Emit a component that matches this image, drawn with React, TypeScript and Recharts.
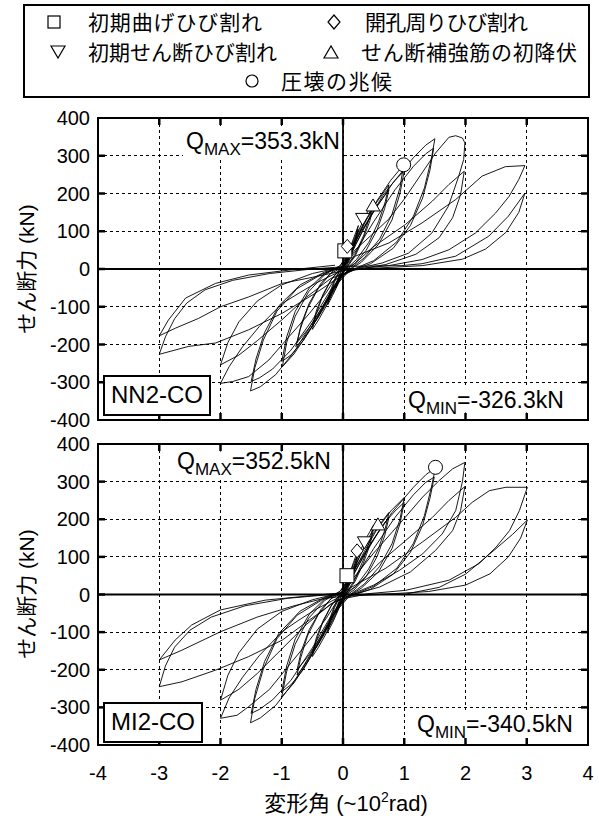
import { CartesianGrid, ComposedChart, Line, ReferenceArea, ReferenceLine, Scatter, XAxis, YAxis } from "recharts"

type Pt = [number, number]

const X_TICKS = [-4, -3, -2, -1, 0, 1, 2, 3, 4]
const Y_TICKS = [-400, -300, -200, -100, 0, 100, 200, 300, 400]

// NN2-CO : deformation angle (x10^-2 rad) vs shear force (kN)
const NN2_R0125: Pt[] = [[0,0],[0.06,30],[0.12,60],[0.09,40],[0.04,12],[0,-5],[-0.06,-28],[-0.12,-50],[-0.09,-32],[-0.04,-10],[0,2],[0.06,28],[0.12,55],[0.09,36],[0.04,10],[0,-5],[-0.06,-25],[-0.12,-45],[-0.09,-28],[-0.04,-8],[0,3]]
const NN2_R025: Pt[] = [[0,3],[0.08,40],[0.17,80],[0.25,115],[0.21,85],[0.14,45],[0.06,12],[0,-8],[-0.08,-40],[-0.17,-70],[-0.25,-95],[-0.21,-68],[-0.14,-35],[-0.06,-8],[0,5],[0.08,38],[0.17,75],[0.25,105],[0.21,75],[0.14,38],[0.06,8],[0,-8],[-0.08,-38],[-0.17,-65],[-0.25,-88],[-0.21,-60],[-0.14,-30],[-0.06,-5],[0,5]]
const NN2_R05: Pt[] = [[0,5],[0.12,50],[0.25,100],[0.38,145],[0.5,180],[0.44,140],[0.34,90],[0.2,40],[0.06,5],[-0.05,-20],[-0.15,-55],[-0.28,-100],[-0.4,-135],[-0.5,-160],[-0.44,-120],[-0.34,-75],[-0.2,-30],[-0.06,-3],[0.04,15],[0.15,50],[0.28,100],[0.4,140],[0.5,170],[0.44,128],[0.33,80],[0.2,35],[0.06,3],[-0.05,-20],[-0.17,-58],[-0.3,-100],[-0.42,-132],[-0.5,-150],[-0.43,-108],[-0.32,-65],[-0.18,-25],[-0.05,0]]
const NN2_R075: Pt[] = [[-0.05,0],[0.1,45],[0.3,110],[0.5,165],[0.65,200],[0.75,223],[0.69,178],[0.58,125],[0.42,70],[0.22,25],[0.02,-5],[-0.1,-35],[-0.3,-95],[-0.5,-150],[-0.65,-185],[-0.77,-206],[-0.7,-160],[-0.58,-105],[-0.4,-50],[-0.2,-12],[0,5],[0.15,45],[0.35,110],[0.55,165],[0.75,210],[0.68,160],[0.56,105],[0.38,50],[0.18,12],[0,-8],[-0.15,-45],[-0.35,-105],[-0.55,-155],[-0.75,-195],[-0.68,-145],[-0.55,-90],[-0.36,-38],[-0.16,-5],[0,8]]
const NN2_R1: Pt[] = [[0,8],[0.15,55],[0.35,120],[0.55,180],[0.78,235],[0.99,276],[0.93,215],[0.8,145],[0.6,80],[0.35,30],[0.1,-2],[-0.08,-30],[-0.3,-95],[-0.55,-165],[-0.8,-225],[-0.99,-259],[-0.92,-195],[-0.78,-125],[-0.56,-60],[-0.3,-15],[-0.05,8],[0.15,50],[0.4,125],[0.65,195],[0.85,235],[1.0,260],[0.93,200],[0.8,130],[0.58,65],[0.3,18],[0.05,-8],[-0.15,-50],[-0.4,-125],[-0.65,-190],[-0.85,-228],[-1.0,-245],[-0.92,-180],[-0.78,-112],[-0.55,-50],[-0.3,-12],[-0.05,8]]
const NN2_R15: Pt[] = [[-0.05,8],[0.15,60],[0.45,140],[0.8,225],[1.15,295],[1.35,328],[1.5,345],[1.44,290],[1.33,215],[1.15,140],[0.88,72],[0.5,22],[0.1,-5],[-0.15,-50],[-0.45,-130],[-0.8,-220],[-1.1,-280],[-1.35,-312],[-1.51,-323],[-1.44,-262],[-1.3,-188],[-1.08,-112],[-0.75,-52],[-0.35,-14],[0,6],[0.2,45],[0.5,125],[0.85,210],[1.15,272],[1.35,305],[1.48,320],[1.42,262],[1.3,188],[1.1,115],[0.82,55],[0.45,14],[0.05,-8],[-0.2,-55],[-0.5,-135],[-0.85,-215],[-1.15,-265],[-1.36,-288],[-1.5,-298],[-1.42,-238],[-1.28,-168],[-1.05,-98],[-0.7,-42],[-0.3,-8],[0,6]]
const NN2_R2: Pt[] = [[0,6],[0.2,51],[0.5,95],[0.74,131],[1.0,185],[1.18,228],[1.51,307],[1.73,349],[1.84,353],[1.95,347],[1.99,334],[1.97,290],[1.89,246],[1.72,166],[1.45,95],[1.07,42],[0.64,16],[0.2,0],[-0.1,-18],[-0.28,-64],[-0.55,-118],[-0.88,-179],[-1.21,-241],[-1.54,-285],[-1.8,-298],[-2.0,-303],[-1.86,-259],[-1.64,-206],[-1.37,-153],[-0.99,-91],[-0.72,-64],[-0.45,-38],[-0.12,-12],[0.2,15],[0.48,57],[1.02,118],[1.46,180],[1.73,224],[1.98,259],[1.92,197],[1.79,136],[1.57,83],[1.19,39],[0.7,12],[0.2,-2],[-0.2,-25],[-0.6,-75],[-1.0,-135],[-1.4,-190],[-1.7,-228],[-2.0,-254],[-1.88,-195],[-1.7,-140],[-1.4,-85],[-1.0,-42],[-0.5,-12],[0,6]]
const NN2_R3: Pt[] = [[0,6],[0.2,34],[0.75,69],[1.29,122],[1.84,184],[2.27,246],[2.65,271],[2.97,274],[2.87,237],[2.71,192],[2.49,148],[2.16,95],[1.73,51],[1.29,25],[0.75,9],[0.2,0],[-0.13,-29],[-0.45,-64],[-0.99,-117],[-1.54,-161],[-2.08,-196],[-2.52,-205],[-3.0,-226],[-2.9,-180],[-2.75,-132],[-2.55,-90],[-2.25,-55],[-1.8,-30],[-1.2,-12],[-0.5,0],[0.09,7],[0.96,9],[1.29,14],[1.84,34],[2.38,87],[2.7,140],[2.97,201],[2.87,150],[2.66,97],[2.33,53],[1.95,26],[1.3,9],[0.5,2],[0,-5],[-0.5,-22],[-0.99,-38],[-1.54,-74],[-2.0,-100],[-2.36,-131],[-2.74,-157],[-3.0,-177],[-2.85,-135],[-2.57,-77],[-2.08,-38],[-1.54,-16],[-0.89,-3],[-0.13,10]]

// MI2-CO
const MI2_R0125: Pt[] = [[0,0],[0.06,28],[0.12,55],[0.09,36],[0.04,10],[0,-5],[-0.06,-28],[-0.12,-50],[-0.09,-32],[-0.04,-10],[0,2],[0.06,26],[0.12,50],[0.09,32],[0.04,8],[0,-5],[-0.06,-25],[-0.12,-45],[-0.09,-28],[-0.04,-8],[0,3]]
const MI2_R025: Pt[] = [[0,3],[0.08,42],[0.17,85],[0.25,120],[0.21,88],[0.14,48],[0.06,12],[0,-8],[-0.08,-42],[-0.17,-75],[-0.25,-100],[-0.21,-70],[-0.14,-36],[-0.06,-8],[0,5],[0.08,40],[0.17,80],[0.25,110],[0.21,78],[0.14,40],[0.06,8],[0,-8],[-0.08,-40],[-0.17,-70],[-0.25,-92],[-0.21,-62],[-0.14,-30],[-0.06,-5],[0,5]]
const MI2_R05: Pt[] = [[0,5],[0.12,52],[0.25,105],[0.38,150],[0.5,185],[0.44,145],[0.34,95],[0.2,42],[0.06,5],[-0.05,-22],[-0.15,-58],[-0.28,-105],[-0.4,-140],[-0.5,-165],[-0.44,-125],[-0.34,-78],[-0.2,-32],[-0.06,-3],[0.04,15],[0.15,52],[0.28,105],[0.4,145],[0.5,175],[0.44,132],[0.33,82],[0.2,36],[0.06,3],[-0.05,-20],[-0.17,-60],[-0.3,-104],[-0.42,-137],[-0.5,-155],[-0.43,-112],[-0.32,-68],[-0.18,-26],[-0.05,0]]
const MI2_R075: Pt[] = [[-0.05,0],[0.1,45],[0.3,110],[0.5,163],[0.65,197],[0.75,218],[0.69,175],[0.58,122],[0.42,68],[0.22,24],[0.02,-5],[-0.1,-36],[-0.3,-100],[-0.5,-155],[-0.65,-193],[-0.75,-214],[-0.69,-168],[-0.58,-110],[-0.4,-52],[-0.2,-12],[0,5],[0.15,45],[0.35,108],[0.55,160],[0.75,205],[0.68,156],[0.56,102],[0.38,48],[0.18,12],[0,-8],[-0.15,-46],[-0.35,-108],[-0.55,-160],[-0.75,-200],[-0.68,-150],[-0.55,-93],[-0.36,-40],[-0.16,-5],[0,8]]
const MI2_R1: Pt[] = [[0,8],[0.15,52],[0.35,115],[0.55,172],[0.78,222],[1.0,258],[0.93,200],[0.8,135],[0.6,75],[0.35,28],[0.1,-2],[-0.08,-32],[-0.3,-100],[-0.55,-172],[-0.8,-235],[-1.0,-272],[-0.92,-205],[-0.78,-132],[-0.56,-63],[-0.3,-16],[-0.05,8],[0.15,48],[0.4,118],[0.65,185],[0.85,222],[1.0,245],[0.93,188],[0.8,122],[0.58,60],[0.3,17],[0.05,-8],[-0.15,-52],[-0.4,-130],[-0.65,-200],[-0.85,-240],[-1.0,-258],[-0.92,-190],[-0.78,-118],[-0.55,-52],[-0.3,-12],[-0.05,8]]
const MI2_R15: Pt[] = [[-0.05,8],[0.15,58],[0.45,135],[0.8,218],[1.15,285],[1.35,318],[1.51,337],[1.44,283],[1.33,210],[1.15,136],[0.88,70],[0.5,22],[0.1,-5],[-0.15,-52],[-0.45,-137],[-0.8,-232],[-1.1,-295],[-1.35,-328],[-1.51,-341],[-1.44,-276],[-1.3,-198],[-1.08,-118],[-0.75,-55],[-0.35,-15],[0,6],[0.2,44],[0.5,122],[0.85,205],[1.15,265],[1.35,298],[1.49,312],[1.42,256],[1.3,184],[1.1,112],[0.82,54],[0.45,14],[0.05,-8],[-0.2,-58],[-0.5,-142],[-0.85,-228],[-1.15,-280],[-1.36,-305],[-1.5,-316],[-1.42,-252],[-1.28,-178],[-1.05,-104],[-0.7,-44],[-0.3,-8],[0,6]]
const MI2_R2: Pt[] = [[0,6],[0.1,30],[0.5,110],[1.02,206],[1.3,259],[1.57,303],[1.79,334],[1.99,351],[1.95,300],[1.84,223],[1.62,161],[1.3,108],[0.92,64],[0.5,25],[0.1,-2],[-0.1,-18],[-0.28,-65],[-0.55,-122],[-0.9,-192],[-1.2,-252],[-1.54,-298],[-1.73,-321],[-2.0,-329],[-1.86,-275],[-1.64,-220],[-1.37,-163],[-0.99,-98],[-0.72,-68],[-0.45,-40],[-0.12,-12],[0.2,20],[0.6,85],[1.02,143],[1.46,205],[1.73,250],[1.99,287],[1.92,223],[1.79,170],[1.51,117],[1.1,60],[0.6,20],[0.1,-3],[-0.2,-25],[-0.6,-80],[-1.0,-145],[-1.4,-210],[-1.7,-252],[-2.0,-281],[-1.88,-215],[-1.7,-155],[-1.4,-92],[-1.0,-45],[-0.5,-14],[0,6]]
const MI2_R3: Pt[] = [[0,6],[0.2,25],[0.7,70],[1.3,140],[1.84,205],[2.11,245],[2.39,276],[2.66,285],[3.01,285],[2.88,223],[2.72,170],[2.5,126],[2.22,82],[1.73,38],[1.02,11],[0.4,2],[-0.1,-15],[-0.55,-68],[-0.99,-121],[-1.54,-165],[-2.08,-201],[-2.63,-232],[-3.0,-245],[-2.9,-190],[-2.75,-140],[-2.5,-95],[-2.15,-60],[-1.6,-30],[-0.9,-10],[-0.2,0],[0.2,0],[1.02,1],[1.57,19],[2.0,54],[2.39,107],[2.77,160],[3.01,198],[2.9,150],[2.7,100],[2.4,55],[2.0,25],[1.4,8],[0.6,0],[0,-5],[-0.3,-10],[-0.8,-30],[-1.4,-60],[-2.0,-99],[-2.63,-148],[-3.0,-174],[-2.74,-121],[-2.47,-81],[-2.0,-41],[-1.27,-15],[-0.12,3]]

// event markers [x, Q]
const NN2_FLEX_CRACK: Pt[] = [[0.03, 48]]
const NN2_HOLE_CRACK: Pt[] = [[0.07, 60]]
const NN2_SHEAR_CRACK: Pt[] = [[0.32, 134]]
const NN2_STIRRUP_YIELD: Pt[] = [[0.49, 167]]
const NN2_CRUSH: Pt[] = [[0.99, 276]]
const MI2_FLEX_CRACK: Pt[] = [[0.065, 50]]
const MI2_HOLE_CRACK: Pt[] = [[0.23, 116]]
const MI2_SHEAR_CRACK: Pt[] = [[0.35, 140]]
const MI2_STIRRUP_YIELD: Pt[] = [[0.57, 185]]
const MI2_CRUSH: Pt[] = [[1.51, 338]]

const toXY = (a: Pt[]) => a.map(([x, y]) => ({ x, y }))

const NUM_FONT = "'Liberation Sans', Arial, 'Noto Sans CJK JP', sans-serif"
const JP_FONT = "'Noto Sans CJK JP', sans-serif"
const PLOT_W = 490

const SquareMark = (p: any) => <rect x={p.cx - 7} y={p.cy - 7} width={14} height={14} fill="#fff" stroke="#000" strokeWidth={1} />
const DiamondMark = (p: any) => <path d={`M${p.cx},${p.cy - 7}L${p.cx + 6},${p.cy}L${p.cx},${p.cy + 7}L${p.cx - 6},${p.cy}Z`} fill="#fff" stroke="#000" strokeWidth={1} />
const TriDownMark = (p: any) => <path d={`M${p.cx - 7},${p.cy - 5}L${p.cx + 7},${p.cy - 5}L${p.cx},${p.cy + 7}Z`} fill="#fff" stroke="#000" strokeWidth={1} />
const TriUpMark = (p: any) => <path d={`M${p.cx - 7},${p.cy + 5}L${p.cx + 7},${p.cy + 5}L${p.cx},${p.cy - 7}Z`} fill="#fff" stroke="#000" strokeWidth={1} />
const CircleMark = (p: any) => <circle cx={p.cx} cy={p.cy} r={7} fill="#fff" stroke="#000" strokeWidth={1} />

function Panel(props: {
  top: number
  height: number
  plotH: number
  xAxisH: number
  showX: boolean
  loops: Pt[][]
  marks: Pt[][]
}) {
  const { top, height, plotH, xAxisH, showX, loops, marks } = props

  const YTick = (p: any) => {
    const v = p.payload.value
    const left = p.x + 8
    return (
      <g>
        <text x={p.x} y={p.y + 7} textAnchor="end" fontSize={20} fontFamily={NUM_FONT} fill="#000">{v}</text>
        {Math.abs(v) < 400 && (
          <>
            <line x1={left} x2={left + 7} y1={p.y} y2={p.y} stroke="#000" strokeWidth={2.5} />
            <line x1={left + PLOT_W - 7} x2={left + PLOT_W} y1={p.y} y2={p.y} stroke="#000" strokeWidth={2.5} />
          </>
        )}
      </g>
    )
  }

  const XTick = (p: any) => {
    const v = p.payload.value
    const bottom = p.y
    return (
      <g>
        {showX && <text x={p.x} y={bottom + 35} textAnchor="middle" fontSize={20} fontFamily={NUM_FONT} fill="#000">{v}</text>}
        {Math.abs(v) < 4 && (
          <>
            <line x1={p.x} x2={p.x} y1={bottom - 7} y2={bottom} stroke="#000" strokeWidth={2.5} />
            <line x1={p.x} x2={p.x} y1={bottom - plotH} y2={bottom - plotH + 7} stroke="#000" strokeWidth={2.5} />
          </>
        )}
      </g>
    )
  }

  const shapes = [SquareMark, DiamondMark, TriDownMark, TriUpMark, CircleMark]

  return (
    <div style={{ position: "absolute", left: 0, top }}>
      <ComposedChart width={599} height={height} margin={{ top: 18, right: 11, bottom: 0, left: 0 }}>
        <CartesianGrid stroke="#000" strokeWidth={1} strokeDasharray="3 3" shapeRendering="crispEdges" />
        <XAxis type="number" dataKey="x" domain={[-4, 4]} ticks={X_TICKS} interval={0} tickSize={0} tickMargin={0}
          axisLine={false} height={xAxisH} tick={(p: any) => <XTick {...p} />} />
        <YAxis type="number" dataKey="y" domain={[-400, 400]} ticks={Y_TICKS} interval={0} tickSize={0} tickMargin={8}
          axisLine={false} width={98} tick={(p: any) => <YTick {...p} />} />
        {loops.map((l, i) => (
          <Line key={i} data={toXY(l)} dataKey="y" type="linear" stroke="#000" strokeWidth={0.9}
            dot={false} activeDot={false} isAnimationActive={false} />
        ))}
        <ReferenceLine x={0} stroke="#000" strokeWidth={1.8} />
        <ReferenceLine y={0} stroke="#000" strokeWidth={1.8} />
        {marks.map((m, i) => (
          <Scatter key={i} data={toXY(m)} dataKey="y" shape={shapes[i]} isAnimationActive={false} />
        ))}
        <ReferenceArea x1={-4} x2={4} y1={-400} y2={400} fill="none" fillOpacity={0} stroke="#000" strokeWidth={2} ifOverflow="visible" />
      </ComposedChart>
    </div>
  )
}

function QLabel({ x, y, sub, value }: { x: number; y: number; sub: string; value: string }) {
  return (
    <text x={x} y={y} fontSize={23} fontFamily={NUM_FONT} fill="#000">
      Q<tspan fontSize={17} dy={6}>{sub}</tspan><tspan dy={-6}>{value}</tspan>
    </text>
  )
}

function NameBox({ x, y, w, label }: { x: number; y: number; w: number; label: string }) {
  return (
    <g>
      <rect x={x} y={y} width={w} height={39} fill="#fff" stroke="#000" strokeWidth={2} />
      <text x={x + w / 2} y={y + 27} textAnchor="middle" fontSize={24} fontFamily={NUM_FONT} fill="#000">{label}</text>
    </g>
  )
}

export default function App() {
  return (
    <div style={{ position: "absolute", left: 0, top: 0, width: 599, height: 821, background: "#fff" }}>
      <Panel top={100} height={340} plotH={302} xAxisH={20} showX={false}
        loops={[NN2_R0125, NN2_R025, NN2_R05, NN2_R075, NN2_R1, NN2_R15, NN2_R2, NN2_R3]}
        marks={[NN2_FLEX_CRACK, NN2_HOLE_CRACK, NN2_SHEAR_CRACK, NN2_STIRRUP_YIELD, NN2_CRUSH]} />
      <Panel top={426} height={379} plotH={301} xAxisH={60} showX={true}
        loops={[MI2_R0125, MI2_R025, MI2_R05, MI2_R075, MI2_R1, MI2_R15, MI2_R2, MI2_R3]}
        marks={[MI2_FLEX_CRACK, MI2_HOLE_CRACK, MI2_SHEAR_CRACK, MI2_STIRRUP_YIELD, MI2_CRUSH]} />
      <svg width={599} height={821} style={{ position: "absolute", left: 0, top: 0, pointerEvents: "none" }}>
        {/* legend */}
        <rect x={24} y={5} width={565} height={92} fill="#fff" stroke="#000" strokeWidth={2} />
        <g fill="#fff" stroke="#000" strokeWidth={1.2}>
          <rect x={48} y={16} width={12} height={12} />
          <path d="M334,15L340,22L334,29L328,22Z" />
          <path d="M51,46L65,46L58,58Z" />
          <path d="M324,58L338,58L331,46Z" />
          <circle cx={252} cy={81} r={6} />
        </g>
        <g fontFamily={JP_FONT} fontSize={21} fill="#000">
          <text x={88} y={30} textLength={174} lengthAdjust="spacing">初期曲げひび割れ</text>
          <text x={365} y={30} textLength={163} lengthAdjust="spacing">開孔周りひび割れ</text>
          <text x={88} y={60} textLength={189} lengthAdjust="spacing">初期せん断ひび割れ</text>
          <text x={361} y={60} textLength={216} lengthAdjust="spacing">せん断補強筋の初降伏</text>
          <text x={281} y={89} textLength={111} lengthAdjust="spacing">圧壊の兆候</text>
        </g>
        {/* axis titles */}
        <text x={26} y={269} transform="rotate(-90 26 269)" textAnchor="middle" dominantBaseline="central" fontSize={21} fontFamily={NUM_FONT} fill="#000">せん断力 (kN)</text>
        <text x={26} y={594} transform="rotate(-90 26 594)" textAnchor="middle" dominantBaseline="central" fontSize={21} fontFamily={NUM_FONT} fill="#000">せん断力 (kN)</text>
        <text x={346} y={811} textAnchor="middle" fontSize={22} fontFamily={NUM_FONT} fill="#000">
          変形角 (~10<tspan dy={-9} fontSize={14}>2</tspan><tspan dy={9}>rad)</tspan>
        </text>
        {/* white backing behind the peak annotations, kept clear of the frame ticks */}
        <g fill="#fff">
          <rect x={183} y={126} width={159} height={34} />
          <rect x={406} y={386} width={180} height={26.5} />
          <rect x={175} y={451.5} width={167} height={27.5} />
          <rect x={414} y={710} width={172} height={27.5} />
        </g>
        <QLabel x={186} y={149} sub="MAX" value="=353.3kN" />
        <QLabel x={408} y={408} sub="MIN" value="=-326.3kN" />
        <QLabel x={177} y={469} sub="MAX" value="=352.5kN" />
        <QLabel x={417} y={732} sub="MIN" value="=-340.5kN" />
        <NameBox x={104} y={376} w={106} label="NN2-CO" />
        <NameBox x={104} y={703} w={98} label="MI2-CO" />
      </svg>
    </div>
  )
}
